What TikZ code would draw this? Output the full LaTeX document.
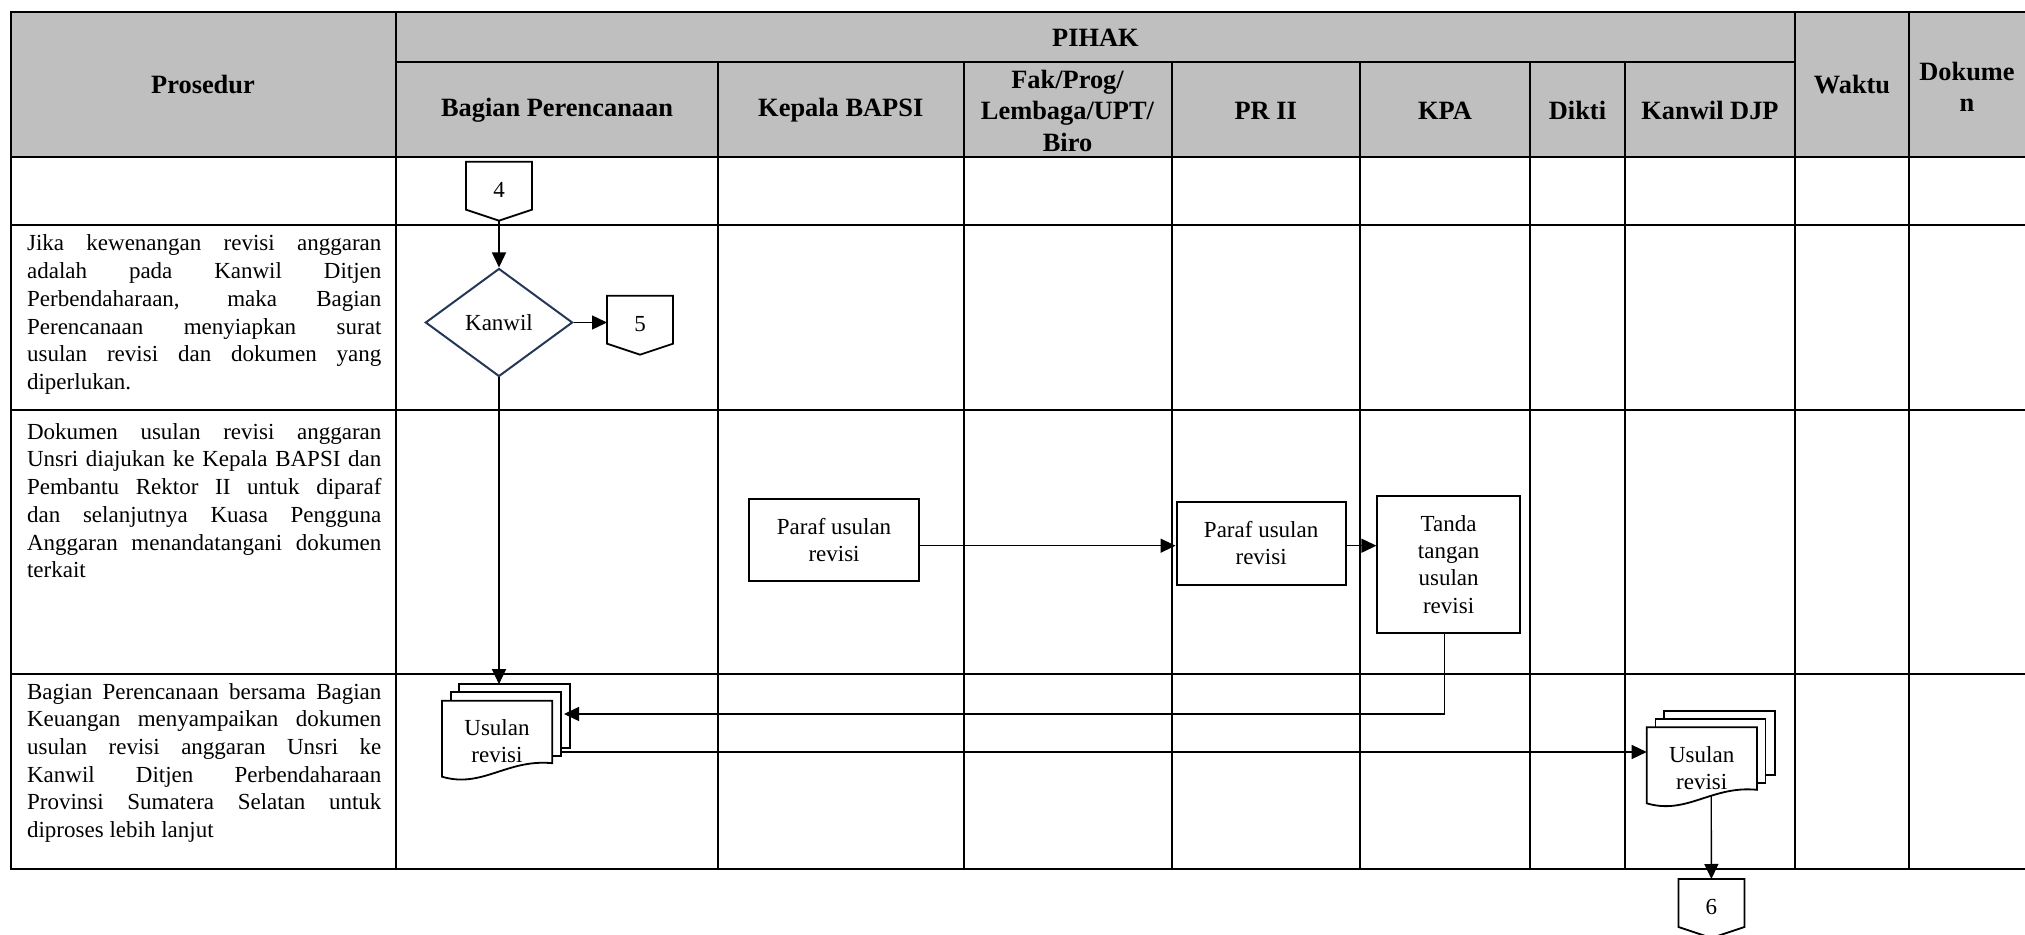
\documentclass[tikz,border=0pt]{standalone}
\usepackage{fontspec}
\setmainfont{Liberation Serif}
\usetikzlibrary{shapes.geometric,arrows.meta}
\definecolor{hdrgray}{RGB}{191,191,191}
\definecolor{navyline}{RGB}{36,56,88}
\begin{document}
\begin{tikzpicture}[x=0.5pt,y=-0.5pt,
  grid/.style={line width=1pt, line cap=rect},
  hdrtext/.style={font=\fontsize{13.2pt}{15.75pt}\selectfont\bfseries, inner sep=0, align=center},
  body/.style={font=\fontsize{11.5pt}{13.85pt}\selectfont, inner sep=0, text width=177.15pt, align=justify, anchor=base west},
  flowfont/.style={font=\fontsize{11.5pt}{13.6pt}\selectfont},
  proc/.style={draw, line width=1pt, fill=white, align=center, inner sep=0, flowfont},
  flow/.style={line width=0.7pt, -{Triangle[length=7.5pt,width=7pt]}},
  decision/.style={diamond, draw=navyline, line width=1pt, fill=white, inner sep=0, minimum width=73.6pt, minimum height=54pt, flowfont},
  shapeline/.style={draw, line width=0.9pt, fill=white},
  offpage/.pic={
    \path[shapeline] (-33,0) -- (33,0) -- (33,48) -- (0,59) -- (-33,48) -- cycle;
    \node[flowfont, inner sep=0] (-t) at (0,28) {#1};
    \coordinate (-top) at (0,0);
    \coordinate (-bot) at (0,59);
    \coordinate (-west) at (-33,28);
  },
  docstack/.pic={
    \path[shapeline] (17,-16.5) rectangle (128,47.5);
    \path[shapeline] (8.7,-8.5) rectangle (118.7,55.5);
    \path[shapeline] (0,0) -- (110.3,0) -- (110.3,62.5) .. controls (65,58) and (40,88) .. (0,76) -- cycle;
    \node[flowfont, align=center, inner sep=0] (-t) at (55,40.5) {Usulan\\revisi};
    \coordinate (-top) at (72.5,-16.5);
    \coordinate (-in) at (122,13.3);
    \coordinate (-out) at (118.7,51.3);
    \coordinate (-west) at (0,25.4);
    \coordinate (-bot) at (64.5,68.7);
  }
]
\useasboundingbox (0,0) rectangle (2025,935);

% header background
\fill[hdrgray] (10.5,12.5) rectangle (2025,157);

% table lines
\draw[grid] (2025,12.5) -- (10.5,12.5) -- (10.5,869) -- (2025,869);
\draw[grid] (396,62) -- (1795,62);
\foreach \yy in {157,225,410,674} {\draw[grid] (10.5,\yy) -- (2025,\yy);}
\foreach \xx in {396,1795,1909} {\draw[grid] (\xx,12.5) -- (\xx,869);}
\foreach \xx in {718,963.5,1171.5,1360,1530,1625} {\draw[grid] (\xx,62) -- (\xx,869);}

% header texts
\node[hdrtext] (hPihak) at (1095.5,37.5) {PIHAK};
\node[hdrtext] (hProsedur) at (203,85) {Prosedur};
\node[hdrtext] (hBagian) at (557,110.5) {Bagian Perencanaan};
\node[hdrtext] (hKepala) at (840.75,110.5) {Kepala BAPSI};
\node[hdrtext] (hFak) at (1067.5,110.5) {Fak/Prog/\\Lembaga/UPT/\\Biro};
\node[hdrtext] (hPR) at (1265.75,110.5) {PR II};
\node[hdrtext] (hKPA) at (1445,110.5) {KPA};
\node[hdrtext] (hDikti) at (1577.5,110.5) {Dikti};
\node[hdrtext] (hKanwil) at (1710,110.5) {Kanwil DJP};
\node[hdrtext] (hWaktu) at (1852,85) {Waktu};
\node[hdrtext] (hDok) at (1967,87) {Dokume\\n};

% procedure texts
\node[body] (p2) at (26.7,251) {Jika kewenangan revisi anggaran\linebreak adalah pada Kanwil Ditjen\linebreak Perbendaharaan, maka Bagian\linebreak Perencanaan menyiapkan surat\linebreak usulan revisi dan dokumen yang\linebreak diperlukan.};
\node[body] (p3) at (26.7,439.3) {Dokumen usulan revisi anggaran\linebreak Unsri diajukan ke Kepala BAPSI dan\linebreak Pembantu Rektor II untuk diparaf\linebreak dan selanjutnya Kuasa Pengguna\linebreak Anggaran menandatangani dokumen\linebreak terkait};
\node[body] (p4) at (26.7,699) {Bagian Perencanaan bersama Bagian\linebreak Keuangan menyampaikan dokumen\linebreak usulan revisi anggaran Unsri ke\linebreak Kanwil Ditjen Perbendaharaan\linebreak Provinsi Sumatera Selatan untuk\linebreak diproses lebih lanjut};

% flowchart symbols
\pic (c4) at (499,161.7) {offpage=4};
\node[decision] (dec) at (499,322.5) {Kanwil};
\pic (c5) at (640,295.7) {offpage=5};
\node[proc, minimum width=84.65pt, minimum height=40.85pt] (b1) at (834.05,539.85) {Paraf usulan\\revisi};
\node[proc, minimum width=84.65pt, minimum height=41.65pt] (b2) at (1261.15,543.35) {Paraf usulan\\revisi};
\node[proc, minimum width=71.2pt, minimum height=68.8pt] (b3) at (1448.6,564.5) {Tanda\\tangan\\usulan\\revisi};
\pic (d1) at (442,700.7) {docstack};
\pic (d2) at (1646.7,727.3) {docstack};
\pic (c6) at (1711.4,879) {offpage=6};

% connectors
\coordinate (rowArrow) at (0,545.7);
\draw[flow] (c4-bot) -- (dec.north);
\draw[flow] (dec.east) -- (dec.east -| c5-west);
\draw[flow] (dec.south) -- (dec.south |- d1-top);
\draw[flow] (b1.east |- rowArrow) -- (b2.west |- rowArrow);
\draw[flow] (b2.east |- rowArrow) -- (b3.west |- rowArrow);
\draw[flow] ([xshift=-2pt]b3.south) |- (d1-in);
\draw[flow] (d1-out) -- (d1-out -| d2-west);
\draw[flow] (d2-bot) -- (c6-top);
\end{tikzpicture}
\end{document}
